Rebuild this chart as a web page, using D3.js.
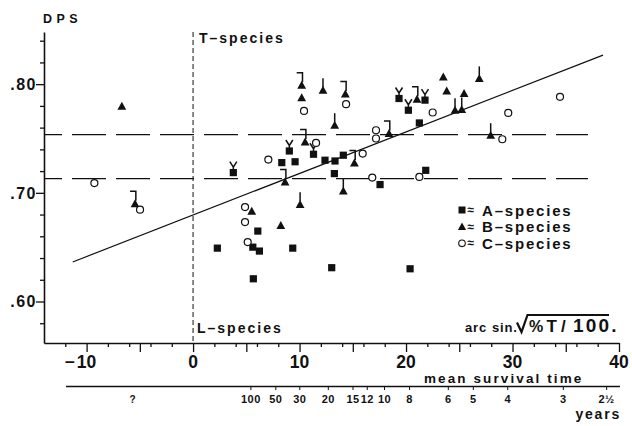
<!DOCTYPE html>
<html><head><meta charset="utf-8">
<script src="https://cdn.jsdelivr.net/npm/d3@7"></script>
<style>
html,body{margin:0;padding:0;background:#fff;}
svg{display:block;}
text{font-family:"Liberation Sans",Arial,Helvetica,sans-serif;font-weight:bold;fill:#111;}
</style></head><body>
<svg id="c" width="632" height="426"></svg>
<script>
// ---------- data ----------
const xTickValues = [-10, 0, 10, 20, 30, 40];
const xTickLabels = ["−10", "0", "10", "20", "30", "40"];
const xMidTicks = [-5, 5, 15, 25, 35];
const xMinorTicks = [-12, -8, -6, -4, -2, 2, 4, 6, 8, 12, 14, 16, 18, 22, 24, 26, 28, 32, 34, 36, 38];
const yTickValues = [0.60, 0.70, 0.80];
const yTickLabels = [".60", ".70", ".80"];
const yMinorTicks = [0.58, 0.62, 0.64, 0.66, 0.68, 0.72, 0.74, 0.76, 0.78, 0.82, 0.84];
const survivalLabels = ["?", "100", "50", "30", "20", "15", "12", "10", "8", "6", "5", "4", "3", "2½"];
const survivalPos = [-5.66, 5.43, 7.77, 10.02, 12.7, 15.02, 16.36, 17.98, 20.33, 23.97, 26.32, 29.55, 34.77, 38.84];
const boundaryDPS = [0.7535, 0.7130];
const trendX = [-11.3, 38.5];
const trendY = [0.6364, 0.8267];
// [x (arc sin), DPS, mark]  mark: v = fork, b = bracket, s = stem
const speciesA = [
  [3.78,0.7186,"v"],[9.04,0.7385,"v"],[8.33,0.7278,""],[9.58,0.7286,""],[11.31,0.7355,"v"],
  [12.39,0.730,""],[13.33,0.7293,""],[14.11,0.7346,""],[13.27,0.7177,""],[17.56,0.7076,""],
  [21.85,0.7207,""],[21.25,0.7643,""],[19.34,0.7868,"v"],[20.22,0.776,"v"],[21.78,0.7853,"v"],
  [6.08,0.6648,""],[5.61,0.650,""],[6.23,0.6464,""],[2.28,0.6491,""],[9.36,0.6491,""],
  [13.02,0.6311,""],[20.38,0.6301,""],[5.66,0.6209,""]
];
const speciesB = [
  [-6.69,0.7797,""],[-5.45,0.690,"b"],[10.2,0.799,"b"],[10.2,0.7877,""],[10.52,0.7468,"b"],
  [8.64,0.710,"b"],[10.05,0.6894,"s"],[5.51,0.6832,""],[8.24,0.670,""],[14.11,0.7017,"s"],
  [15.15,0.7275,"b"],[12.2,0.7945,"s"],[14.3,0.791,"b"],[13.3,0.7622,"s"],[18.4,0.7546,"b"],
  [21.03,0.7862,"b"],[23.5,0.8067,""],[23.82,0.7938,""],[25.45,0.7914,""],[24.6,0.776,"s"],
  [25.23,0.7767,"s"],[26.88,0.8053,"s"],[27.95,0.753,"s"]
];
const speciesC = [
  [-9.27,0.709],[-4.98,0.6845],[10.42,0.7754],[7.07,0.7306],[11.55,0.7459],[4.88,0.6869],
  [4.88,0.6731],[5.13,0.6547],[15.93,0.7361],[16.83,0.714],[21.25,0.7146],[14.37,0.7816],
  [17.18,0.7576],[17.18,0.75],[22.5,0.7739],[34.46,0.7883],[29.6,0.7735],[29.04,0.7493]
];
const legendLabels = ["A–species", "B–species", "C–species"];

// ---------- scales ----------
const svg = d3.select("#c");
svg.append("rect").attr("width",632).attr("height",426).attr("fill","#fff");
const x = d3.scaleLinear().domain([-14, 40]).range([44, 619]);
const y = d3.scaleLinear().domain([0.5618, 0.848]).range([343, 32]);
const ink = "#111";

// ---------- axes ----------
const yAll = yTickValues.concat(yMinorTicks);
const gy = svg.append("g").attr("transform","translate(44,0)")
  .call(d3.axisLeft(y).tickValues(yAll).tickSize(4).tickSizeOuter(0).tickFormat(""));
gy.select(".domain").attr("stroke",ink).attr("stroke-width",1.6);
gy.selectAll(".tick line").attr("stroke",ink).attr("stroke-width",1.3)
  .attr("x2", d => yTickValues.includes(d) ? -8 : -4);
svg.append("g").selectAll("text").data(yTickValues).join("text")
  .attr("x", 37).attr("y", d => y(d) + 6)
  .attr("text-anchor","end").attr("font-size",16).attr("letter-spacing",1.5)
  .text((d,i) => yTickLabels[i]);

const xAll = xTickValues.concat(xMidTicks, xMinorTicks);
const gx = svg.append("g").attr("transform","translate(0,343)")
  .call(d3.axisBottom(x).tickValues(xAll).tickSize(4).tickSizeOuter(0).tickFormat(""));
gx.select(".domain").attr("stroke",ink).attr("stroke-width",1.6);
gx.selectAll(".tick line").attr("stroke",ink).attr("stroke-width",1.3)
  .attr("y2", d => (xTickValues.includes(d) || xMidTicks.includes(d)) ? 9 : 4);
const xl = svg.append("g");
xTickValues.forEach((v,i) => {
  const lab = xTickLabels[i];
  const neg = lab.startsWith("−");
  const num = neg ? lab.slice(1) : lab;
  const t = xl.append("text").attr("x", x(v)).attr("y", 367.5)
    .attr("text-anchor","middle").attr("font-size",17.5).text(num);
  if (neg) {
    const w = t.node().getComputedTextLength();
    xl.append("text").attr("x", x(v) - w/2 - 2).attr("y", 367.5)
      .attr("text-anchor","end").attr("font-size",17.5).text("−");
  }
});

// secondary scale: mean survival time
svg.append("text").attr("x",424).attr("y",383.3).attr("font-size",13.5).attr("letter-spacing",2.1)
  .text("mean survival time");
svg.append("line").attr("x1",66).attr("x2",620).attr("y1",386.5).attr("y2",386.5)
  .attr("stroke",ink).attr("stroke-width",1.4);
svg.append("g").selectAll("line").data(survivalPos.slice(1)).join("line")
  .attr("x1", d => x(d)).attr("x2", d => x(d)).attr("y1",386.5).attr("y2",390)
  .attr("stroke",ink).attr("stroke-width",1);
svg.append("g").selectAll("text").data(survivalLabels).join("text")
  .attr("x", (d,i) => x(survivalPos[i])).attr("y", 402.5)
  .attr("text-anchor","middle").attr("font-size", d => d==="?" ? 10 : 11)
  .attr("letter-spacing",0.5).text(d => d);
svg.append("text").attr("x",621).attr("y",418.5).attr("text-anchor","end")
  .attr("font-size",14).attr("letter-spacing",1.8).text("years");

// ---------- reference lines ----------
svg.append("line").attr("x1",x(0)).attr("x2",x(0)).attr("y1",y.range()[1]).attr("y2",y.range()[0])
  .attr("stroke",ink).attr("stroke-width",1).attr("stroke-dasharray","5,3");
svg.append("g").selectAll("line").data(boundaryDPS).join("line")
  .attr("x1",44).attr("x2",588).attr("y1",d=>y(d)).attr("y2",d=>y(d))
  .attr("stroke",ink).attr("stroke-width",1.2)
  .attr("stroke-dasharray","34,10").attr("stroke-dashoffset",16);
svg.append("path")
  .datum(trendX.map((v,i)=>[v,trendY[i]]))
  .attr("d", d3.line().x(d=>x(d[0])).y(d=>y(d[1])))
  .attr("fill","none").attr("stroke",ink).attr("stroke-width",1.2);

// ---------- marks ----------
const mk = svg.append("g").attr("stroke",ink).attr("fill","none").attr("stroke-width",1.5);
function addMark(cx, cy, m) {
  if (m === "s") {
    mk.append("line").attr("x1",cx).attr("x2",cx).attr("y1",cy-3).attr("y2",cy-12);
  } else if (m === "b") {
    mk.append("path").attr("d",`M${cx-5},${cy-12.5}L${cx+0.8},${cy-12.5}L${cx+0.8},${cy-3}`);
  } else if (m === "v") {
    mk.append("path").attr("d",`M${cx-3.5},${cy-11}L${cx},${cy-5.5}L${cx+3.5},${cy-11}M${cx},${cy-5.5}L${cx},${cy-3}`);
  }
}
const pts = svg.append("g");
speciesA.forEach(d => {
  const cx = x(d[0]), cy = y(d[1]);
  addMark(cx, cy, d[2]);
  pts.append("rect").attr("x",cx-3.6).attr("y",cy-3.6).attr("width",7.2).attr("height",7.2).attr("fill",ink);
});
const tri = (cx,cy,s) => `M${cx},${cy-s*0.55}L${cx+s*0.55},${cy+s*0.45}L${cx-s*0.55},${cy+s*0.45}Z`;
speciesB.forEach(d => {
  const cx = x(d[0]), cy = y(d[1]);
  addMark(cx, cy, d[2]);
  pts.append("path").attr("d",tri(cx,cy,8)).attr("fill",ink);
});
speciesC.forEach(d => {
  pts.append("circle").attr("cx",x(d[0])).attr("cy",y(d[1])).attr("r",3.5)
    .attr("fill","#fff").attr("stroke",ink).attr("stroke-width",1.2);
});

// ---------- legend ----------
const lg = svg.append("g");
const ly = [210, 226.7, 243.3];
lg.append("rect").attr("x",458.5).attr("y",ly[0]-3.5).attr("width",7).attr("height",7).attr("fill",ink);
lg.append("path").attr("d",tri(462,ly[1],7.5)).attr("fill",ink);
lg.append("circle").attr("cx",462).attr("cy",ly[2]).attr("r",3.3).attr("fill","#fff").attr("stroke",ink).attr("stroke-width",1.1);
legendLabels.forEach((t,i) => {
  lg.append("text").attr("x",467.5).attr("y",ly[i]+4).attr("font-size",12).text("≈");
  lg.append("text").attr("x",482).attr("y",ly[i]+5.5).attr("font-size",15).attr("letter-spacing",1.8).text(t);
});

// ---------- annotations ----------
svg.append("text").attr("x",43).attr("y",22.5).attr("font-size",12.5).attr("letter-spacing",4.5).text("DPS");
svg.append("text").attr("x",199).attr("y",43).attr("font-size",14).attr("letter-spacing",2).text("T–species");
svg.append("text").attr("x",197).attr("y",333).attr("font-size",14).attr("letter-spacing",2).text("L–species");
svg.append("text").attr("x",465).attr("y",332).attr("font-size",13).attr("letter-spacing",0.8).text("arc");
svg.append("text").attr("x",492).attr("y",332).attr("font-size",13).attr("letter-spacing",0.8).text("sin.");
svg.append("path").attr("d","M517,322.5L521.5,332L527.5,315L609,315")
  .attr("fill","none").attr("stroke",ink).attr("stroke-width",2.2).attr("stroke-linejoin","miter");
const f = svg.append("text").attr("y",332);
f.append("tspan").attr("x",529).attr("font-size",16).text("%");
f.append("tspan").attr("x",546.5).attr("font-size",17).text("T");
f.append("tspan").attr("x",561).attr("font-size",17).text("/");
f.append("tspan").attr("x",573).attr("font-size",19).attr("letter-spacing",2.2).text("100.");
</script>
</body></html>
